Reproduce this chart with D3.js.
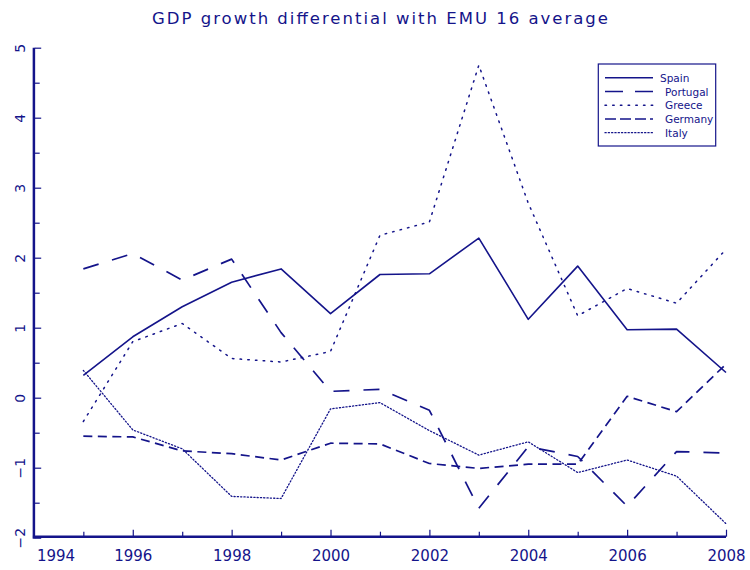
<!DOCTYPE html>
<html>
<head>
<meta charset="utf-8">
<script src="https://cdn.jsdelivr.net/npm/d3@7"></script>
<style>
  html, body { margin: 0; padding: 0; background: #fff; }
  svg { display: block; }
  text { font-family: "DejaVu Sans", "Liberation Sans", sans-serif; fill: #14148a; }
</style>
</head>
<body>
<svg id="chart" width="750" height="570"></svg>
<script>
const titleText = "GDP growth differential with EMU 16 average";
const years = [1995, 1996, 1997, 1998, 1999, 2000, 2001, 2002, 2003, 2004, 2005, 2006, 2007, 2008];
const spain    = [0.32, 0.87, 1.30, 1.65, 1.84, 1.20, 1.76, 1.77, 2.28, 1.12, 1.88, 0.97, 0.98, 0.36];
const portugal = [1.84, 2.06, 1.68, 1.98, 0.93, 0.09, 0.12, -0.18, -1.58, -0.70, -0.84, -1.55, -0.77, -0.79];
const greece   = [-0.34, 0.80, 1.06, 0.56, 0.51, 0.66, 2.32, 2.51, 4.75, 2.78, 1.17, 1.56, 1.35, 2.12];
const germany  = [-0.55, -0.56, -0.76, -0.80, -0.89, -0.65, -0.66, -0.94, -1.01, -0.95, -0.95, 0.02, -0.20, 0.48];
const italy    = [0.39, -0.46, -0.73, -1.41, -1.44, -0.16, -0.07, -0.47, -0.82, -0.63, -1.07, -0.89, -1.12, -1.80];
const seriesNames = ["Spain", "Portugal", "Greece", "Germany", "Italy"];
const xMajorTicks = [1994, 1996, 1998, 2000, 2002, 2004, 2006, 2008];
const xMinorTicks = [1995, 1997, 1999, 2001, 2003, 2005, 2007];
const yMajorTicks = [-2, -1, 0, 1, 2, 3, 4, 5];
const yMinorTicks = [-1.5, -0.5, 0.5, 1.5, 2.5, 3.5, 4.5];

const navy = "#14148a";
const series = [
  { name: seriesNames[0], values: spain,    dash: null,        width: 1.6 },
  { name: seriesNames[1], values: portugal, dash: "16,14",     width: 1.7 },
  { name: seriesNames[2], values: greece,   dash: "1.5,6.2",   width: 1.5 },
  { name: seriesNames[3], values: germany,  dash: "9,5.5",     width: 1.7 },
  { name: seriesNames[4], values: italy,    dash: "1.2,2.1",   width: 1.3 }
];

const svg = d3.select("#chart");
const x = d3.scaleLinear().domain([1994, 2008]).range([33.9, 726]);
const y = d3.scaleLinear().domain([-2, 5]).range([537.7, 47.7]);

// Title
svg.append("text")
  .attr("x", 380).attr("y", 24)
  .attr("text-anchor", "middle")
  .attr("font-size", 16.5)
  .attr("fill", navy)
  .attr("textLength", 456)
  .attr("lengthAdjust", "spacing")
  .text(titleText);

// X axis (minor ticks then major)
const xMinor = d3.axisBottom(x).tickValues(xMinorTicks).tickSize(-5).tickFormat("");
const xMajor = d3.axisBottom(x).tickValues(xMajorTicks).tickSize(-7).tickFormat(d3.format("d")).tickPadding(13);
const gxm = svg.append("g").attr("transform", "translate(0,536.7)").call(xMinor);
const gx = svg.append("g").attr("transform", "translate(0,536.7)").call(xMajor);
[gxm, gx].forEach(g => {
  g.select(".domain").remove();
  g.selectAll(".tick line").attr("stroke", navy).attr("stroke-width", 1.2);
});
gx.selectAll(".tick text")
  .attr("fill", navy).attr("font-size", 15)
  .attr("font-family", "DejaVu Sans")
  .attr("y", 24.3).attr("dy", 0);
gx.selectAll(".tick text").filter(d => d === 1994)
  .attr("text-anchor", "start").attr("x", 2.5);

// Y axis
const yMinor = d3.axisLeft(y).tickValues(yMinorTicks).tickSize(-5).tickFormat("");
const yMajor = d3.axisLeft(y).tickValues(yMajorTicks).tickSize(-6.5).tickFormat(d => d < 0 ? "\u2212" + Math.abs(d) : d);
const gym = svg.append("g").attr("transform", "translate(34.7,0)").call(yMinor);
const gy = svg.append("g").attr("transform", "translate(34.7,0)").call(yMajor);
[gym, gy].forEach(g => {
  g.select(".domain").remove();
  g.selectAll(".tick line").attr("stroke", navy).attr("stroke-width", 1.2);
});
gy.selectAll(".tick text")
  .attr("fill", navy).attr("font-size", 14)
  .attr("font-family", "DejaVu Sans")
  .attr("text-anchor", "middle")
  .attr("x", null).attr("dy", null)
  .attr("transform", "translate(-9.5,0) rotate(-90)")
  .attr("y", 0);

// Axis lines
svg.append("line").attr("x1", x(1994)).attr("x2", x(1994)).attr("y1", y(5)).attr("y2", y(-2) + 1)
  .attr("stroke", navy).attr("stroke-width", 2.5);
svg.append("line").attr("x1", x(1994) - 1).attr("x2", x(2008)).attr("y1", y(-2) - 1).attr("y2", y(-2) - 1)
  .attr("stroke", navy).attr("stroke-width", 2.5);

// Lines
const line = d3.line().x((d, i) => x(years[i])).y(d => y(d));
series.forEach(s => {
  svg.append("path")
    .datum(s.values)
    .attr("d", line)
    .attr("fill", "none")
    .attr("stroke", navy)
    .attr("stroke-width", s.width)
    .attr("stroke-dasharray", s.dash)
    .attr("stroke-linecap", s.dash && s.dash.startsWith("1.") ? "round" : "butt")
    .attr("stroke-linejoin", "round");
});

// Legend
const lg = svg.append("g");
lg.append("rect").attr("x", 598.3).attr("y", 64).attr("width", 117.4).attr("height", 82)
  .attr("fill", "#fff").attr("stroke", navy).attr("stroke-width", 1.2);
const rowY = [77.7, 91.5, 105.2, 119, 132.7];
series.forEach((s, i) => {
  lg.append("line")
    .attr("x1", 605).attr("x2", 653).attr("y1", rowY[i]).attr("y2", rowY[i])
    .attr("stroke", navy).attr("stroke-width", s.width)
    .attr("stroke-dasharray", i === 1 ? "18,12" : (i === 3 ? "11,4" : s.dash))
    .attr("stroke-linecap", s.dash && s.dash.startsWith("1.") ? "round" : "butt");
  lg.append("text")
    .attr("x", i === 0 ? 660 : 665).attr("y", rowY[i] + 4)
    .attr("font-size", 10.5)
    .attr("fill", navy)
    .text(s.name);
});
</script>
</body>
</html>
